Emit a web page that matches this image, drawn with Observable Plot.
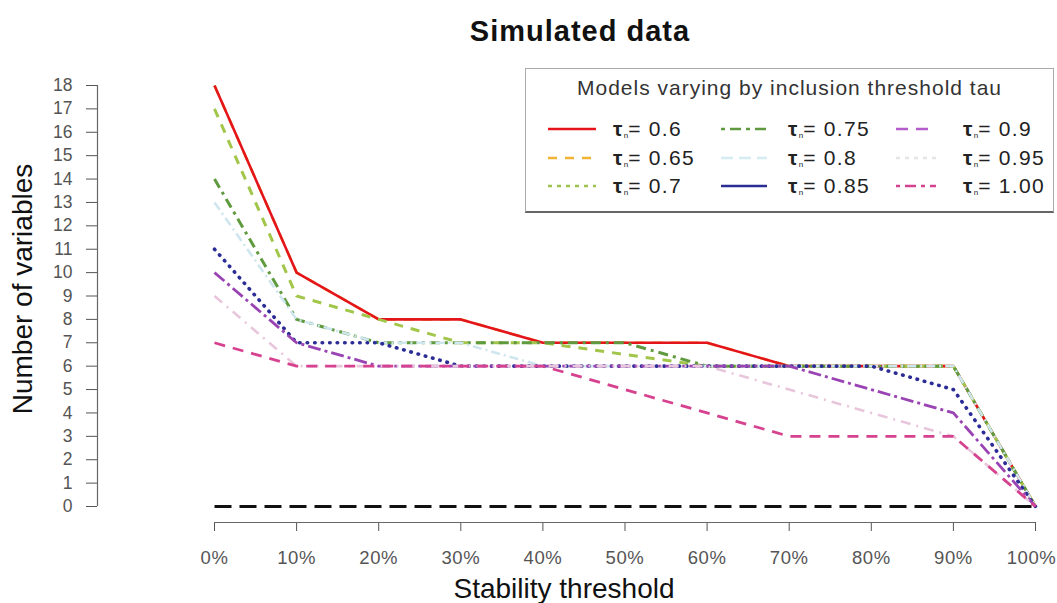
<!DOCTYPE html>
<html>
<head>
<meta charset="utf-8">
<script src="https://cdn.jsdelivr.net/npm/d3@7"></script>
<script src="https://cdn.jsdelivr.net/npm/@observablehq/plot@0.6"></script>
<style>
  html, body { margin: 0; padding: 0; background: #fff; }
  body { width: 1057px; height: 603px; overflow: hidden; font-family: "Liberation Sans", Arial, Helvetica, sans-serif; }
  #wrap { position: relative; width: 1057px; height: 603px; }
  #title { position: absolute; left: 380px; top: 17px; width: 400px; text-align: center; font-size: 29px; line-height: 29px; font-weight: bold; color: #111; letter-spacing: 1px; }
  #chart { position: absolute; left: 0; top: 50px; }
  #legend { position: absolute; left: 525px; top: 68px; width: 529px; height: 145px; border: 1px solid #aaa; border-bottom: 2px solid #666; background: #fff; box-sizing: border-box; }
  #legend .lt { position: absolute; left: 0; width: 100%; top: 7px; text-align: center; font-size: 21px; color: #333; letter-spacing: 1px; }
  #legend .item { position: absolute; height: 24px; display: flex; align-items: center; font-size: 21px; color: #222; }
  #legend .item svg { display: block; }
  #legend .item .lab { position: absolute; white-space: nowrap; letter-spacing: 1.3px; }
  #legend sub { font-size: 8px; vertical-align: -2px; letter-spacing: 0; }
  #legend b { font-weight: bold; }
</style>
</head>
<body>
<div id="wrap">
  <div id="title">Simulated data</div>
  <div id="chart"></div>
  <div id="legend"><div class="lt">Models varying by inclusion threshold tau</div></div>
</div>
<script>
// ---- data ----
const stability = [0, 10, 20, 30, 40, 50, 60, 70, 80, 90, 100];
const yTicks = [0,1,2,3,4,5,6,7,8,9,10,11,12,13,14,15,16,17,18];
const xTicks = [0, 10, 20, 30, 40, 50, 60, 70, 80, 90, 100];
const tauLabels = ["0.6", "0.65", "0.7", "0.75", "0.8", "0.85", "0.9", "0.95", "1.00"];
const tau060 = [18, 10, 8, 8, 7, 7, 7, 6, 6, 6, 0];
const tau065 = [18, 10, 8, 8, 7, 7, 7, 6, 6, 6, 0];
const tau070 = [17, 9, 8, 7, 7, 6.5, 6, 6, 6, 6, 0];
const tau075 = [14, 8, 7, 7, 7, 7, 6, 6, 6, 6, 0];
const tau080 = [13, 8, 7, 7, 6, 6, 6, 6, 6, 6, 0];
const tau085 = [11, 7, 7, 6, 6, 6, 6, 6, 6, 5, 0];
const tau090 = [10, 7, 6, 6, 6, 6, 6, 6, 5, 4, 0];
const tau095 = [9, 6, 6, 6, 6, 6, 6, 5, 4, 3, 0];
const tau100 = [7, 6, 6, 6, 6, 5, 4, 3, 3, 3, 0];
const baseline = [0, 0, 0, 0, 0, 0, 0, 0, 0, 0, 0];

// ---- styles ----
const plotStyles = [
  {vals: tau065, color: "#f2b233", dash: "10,8", w: 2.6},
  {vals: tau060, color: "#e3151b", dash: null, w: 2.6},
  {vals: tau070, color: "#a2c64a", dash: "9,8", w: 3},
  {vals: tau075, color: "#5f9a3e", dash: "10,5,3,5", w: 3},
  {vals: tau080, color: "#cfe6ee", dash: "9,4,2,4", w: 2.6},
  {vals: tau085, color: "#2b2c95", dash: "0.5,7", w: 3.6, cap: "round"},
  {vals: tau090, color: "#9a44b4", dash: "13,4,3,4", w: 2.8},
  {vals: tau095, color: "#e8c6dc", dash: "10,6,2,6", w: 2.6},
  {vals: tau100, color: "#d6428f", dash: "11,8", w: 2.8},
  {vals: baseline, color: "#111", dash: "17,8", w: 3.2}
];

const seriesMarks = plotStyles.map(s => {
  const rows = stability.map((x, i) => ({x, y: s.vals[i]}));
  return Plot.line(rows, {x: "x", y: "y", stroke: s.color, strokeWidth: s.w,
    strokeDasharray: s.dash || undefined, strokeLinecap: s.cap || "butt", strokeLinejoin: "round"});
});

const chart = Plot.plot({
  width: 1057,
  height: 553,
  marginTop: 35,
  marginBottom: 97,
  marginLeft: 214,
  marginRight: 22,
  style: {fontFamily: "'Liberation Sans', Arial, Helvetica, sans-serif", background: "#fff", overflow: "visible"},
  x: {domain: [0, 100]},
  y: {domain: [0, 18]},
  marks: [
    Plot.axisY({ticks: yTicks, anchor: "left", dx: -117, tickSize: 11, tickPadding: 14, fontSize: 17.5, color: "#555", label: null, tickFormat: d => String(d)}),
    Plot.ruleX([0], {y1: 0, y2: 18, dx: -117, stroke: "#666", strokeWidth: 1.2}),
    Plot.axisX({ticks: xTicks, anchor: "bottom", dy: 16, tickSize: 9, tickPadding: 19, fontSize: 18.5, color: "#555", label: null, tickFormat: d => d + "%"}),
    Plot.ruleY([0], {x1: 0, x2: 100, dy: 16, stroke: "#666", strokeWidth: 1.2}),
    Plot.text(["Number of variables"], {frameAnchor: "left", textAnchor: "middle", rotate: -90, dx: -191, dy: -7, fontSize: 28, fill: "#111"}),
    Plot.text(["Stability threshold"], {frameAnchor: "bottom", lineAnchor: "bottom", dx: -61, dy: 91, fontSize: 28, fill: "#111"}),
    ...seriesMarks
  ]
});
document.getElementById("chart").appendChild(chart);
// widen the x tick labels' spacing as in the reference; keep the last one inside the page
const xLabs = d3.select(chart).selectAll("g[aria-label='x-axis tick label'] text").style("letter-spacing", "0.6px");
const lastLab = xLabs.nodes().find(n => n.textContent === "100%");
if (lastLab) lastLab.setAttribute("dx", "-4");

// ---- legend ----
const legendStyles = [
  {color: "#e3151b", dash: null},
  {color: "#f2b233", dash: "9,8"},
  {color: "#9cc44e", dash: "4,5"},
  {color: "#5f9a3e", dash: "4,5,11,5"},
  {color: "#d4ecf2", dash: "12,6"},
  {color: "#2b2c95", dash: null},
  {color: "#b45ccb", dash: "12,8"},
  {color: "#e4e4e8", dash: "4,5"},
  {color: "#d6428f", dash: "4,5,11,5"}
];
const colSwatchX = [22, 195, 370];
const colLabelX = [87, 262, 437];
const swatchW = [48, 46, 40];
const rowY = [48, 77, 105];
const leg = document.getElementById("legend");
tauLabels.forEach((lab, i) => {
  const col = Math.floor(i / 3), row = i % 3;
  const st = legendStyles[i];
  const item = document.createElement("div");
  item.className = "item";
  item.style.left = colSwatchX[col] + "px";
  item.style.top = rowY[row] + "px";
  const w = swatchW[col];
  item.innerHTML = `<svg width="${w}" height="24"><line x1="0" y1="12" x2="${w}" y2="12" stroke="${st.color}" stroke-width="2.6" ${st.dash ? `stroke-dasharray="${st.dash}"` : ""}/></svg>` +
    `<span class="lab" style="left:${colLabelX[col] - colSwatchX[col]}px"><b>τ</b><sub>n</sub>= ${lab}</span>`;
  leg.appendChild(item);
});
</script>
</body>
</html>
